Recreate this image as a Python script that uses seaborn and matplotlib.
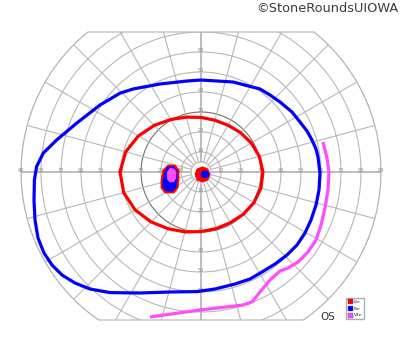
import numpy as np
import pandas as pd
import matplotlib
matplotlib.use("Agg")
import matplotlib.pyplot as plt
from matplotlib.patches import Polygon
from matplotlib.lines import Line2D
import seaborn as sns

# Goldmann visual field, left eye (OS). Degrees of eccentricity.
stimuli = ["I2e", "I4e", "V4e"]
colors = {"I2e": "#ff0000", "I4e": "#0000ff", "V4e": "#ff4cff"}

# I2e isopter: meridian (deg, ccw from right) and eccentricity
i2e_meridian = [0, 15, 30, 45, 60, 75, 90, 105, 120, 135, 150, 165,
                180, 195, 210, 225, 240, 255, 270, 285, 300, 315, 330, 345]
i2e_ecc = [31, 30.2, 29, 27.9, 27, 26.8, 27.3, 28.4, 30.3, 33, 36.1, 39,
           40.5, 40, 38, 35.3, 32.8, 31, 29.8, 29.3, 29.3, 29.9, 30.6, 31]

# I4e isopter: horizontal / vertical position in degrees
i4e_x = [0, 16, 29.5, 34.5, 39.5, 45.5, 49.5, 53, 55.5, 57.5, 58.5, 59.5,
         59, 57.5, 55, 52, 48, 43, 37, 30.5, 24.5, 17, 7, -2, -15.5, -30.5,
         -45.5, -55.5, -63, -69.5, -74.5, -78.5, -81.5, -83, -83.5, -83.3,
         -82.2, -78.9, -72.2, -62.2, -50.5, -40.5, -34, -20.5, -7]
i4e_y = [46, 45, 41.5, 38.5, 35, 30, 25, 20.5, 16, 11.5, 7.5, -0.5,
         -9, -16.5, -24, -30.5, -36.5, -41.5, -46, -50, -53.5, -56, -58.5,
         -59.8, -60, -60.5, -60.3, -58.5, -55.5, -51.5, -46.5, -40.5, -33,
         -24, -14, -4, 2.7, 9.4, 16, 24.4, 33.5, 39.4, 41.5, 44, 45.5]

# V4e isopter (open, nasal/inferior only)
v4e_x = [61, 63, 64, 63.5, 62, 60, 57.5, 53.5, 48.5, 43.5, 39.5, 34.5, 29.5,
         25.5, 21, -0.5, -25.5]
v4e_y = [15, 7, 0, -9, -18, -26.5, -34, -40, -45, -48, -49.5, -54, -60,
         -65, -66.5, -69, -72.5]

# blind spot scotoma
bs_i2e_x = [-16.5, -13, -11, -11, -11.5, -13.5, -18, -20, -20, -19]
bs_i2e_y = [3.5, 3.5, 1, -4, -8, -10.5, -10.5, -8, -4, 1]
bs_i4e_x = [-16.5, -13.5, -12, -12, -12.5, -14, -17.5, -19, -19, -18]
bs_i4e_y = [2.5, 2.5, 0.5, -4, -7.5, -9.5, -9.5, -7.5, -4, 0.5]
bs_v4e_x = [-15.5, -13.5, -12.5, -12.7, -13.5, -15.5, -16.8, -17]
bs_v4e_y = [1.8, 1.5, 0, -3, -4.8, -5, -3.5, -0.5]

# central island
c_i2e_x = [0.8, 3.5, 4.5, 3.5, 0.8, -2, -3, -2]
c_i2e_y = [2.6, 1.5, -1.2, -4, -5, -4, -1.2, 1.5]
c_i4e_x = [2, 3.5, 4, 3.5, 2, 0.5, 0, 0.5]
c_i4e_y = [0.6, 0.1, -1.2, -2.5, -3, -2.5, -1.2, 0.1]

ring_ecc = [5, 10, 20, 30, 40, 50, 60, 70, 80, 90]
label_ecc = [10, 20, 30, 40, 50, 60, 70, 80, 90]
top_limit = 70
bottom_limit = -74

sns.set_style("white")
fig = plt.figure(figsize=(4, 3.52), dpi=100)
ax = fig.add_axes([0, 0, 1, 1])
ax.set_xlim(-100.5, 99.5)
ax.set_ylim(-90, 86)
ax.axis("off")

# chart outline used to clip the grid
a_top = np.degrees(np.arcsin(top_limit / 90))
a_bot = np.degrees(np.arcsin(-bottom_limit / 90))
t1 = np.radians(np.linspace(-a_bot, a_top, 100))
t2 = np.radians(np.linspace(180 - a_top, 180 + a_bot, 100))
outline = np.vstack([np.c_[90 * np.cos(t1), 90 * np.sin(t1)],
                     np.c_[90 * np.cos(t2), 90 * np.sin(t2)]])
clip = Polygon(outline, closed=True, transform=ax.transData, fill=False,
               edgecolor="#b5b5b5", lw=0.8)
ax.add_patch(clip)

grid_col = "#b8b8b8"
t = np.linspace(0, 2 * np.pi, 361)
for r in ring_ecc:
    col = "#707070" if r == 30 else grid_col
    ln, = ax.plot(r * np.cos(t), r * np.sin(t), color=col, lw=0.8, zorder=1)
    ln.set_clip_path(clip)
for m in range(0, 360, 15):
    a = np.radians(m)
    lw = 1.3 if m % 90 == 0 else 0.8
    ln, = ax.plot([5 * np.cos(a), 95 * np.cos(a)], [5 * np.sin(a), 95 * np.sin(a)],
                  color=grid_col, lw=lw, zorder=1)
    ln.set_clip_path(clip)

for r in label_ecc:
    for px, py in [(r, 0), (-r, 0), (0, r), (0, -r)]:
        if bottom_limit < py < top_limit:
            ax.text(px, py + 0.6, str(r), fontsize=3.6, color="#8a8a8a",
                    ha="center", va="center", zorder=2)

# isopters
rad = np.radians(i2e_meridian)
i2e_x = list(np.array(i2e_ecc) * np.cos(rad))
i2e_y = list(np.array(i2e_ecc) * np.sin(rad))
curves = [("I2e", i2e_x + i2e_x[:1], i2e_y + i2e_y[:1]),
          ("I4e", i4e_x + i4e_x[:1], i4e_y + i4e_y[:1]),
          ("V4e", v4e_x, v4e_y)]
df = pd.concat([pd.DataFrame({"x": xs, "y": ys, "stimulus": s,
                              "order": range(len(xs))})
                for s, xs, ys in curves], ignore_index=True)
sns.lineplot(data=df, x="x", y="y", hue="stimulus", palette=colors,
             sort=False, estimator=None, lw=2.3, legend=False, ax=ax,
             zorder=5, solid_joinstyle="round", solid_capstyle="butt")

for xs, ys, s in [(bs_i2e_x, bs_i2e_y, "I2e"), (bs_i4e_x, bs_i4e_y, "I4e"),
                  (bs_v4e_x, bs_v4e_y, "V4e"), (c_i2e_x, c_i2e_y, "I2e"),
                  (c_i4e_x, c_i4e_y, "I4e")]:
    ax.fill(xs, ys, color=colors[s], lw=0.6, ec=colors[s], zorder=6)

ax.text(63.5, -72.5, "OS", fontsize=7.5, color="#333333", ha="center", va="center")
fig.text(0.995, 0.976, "\u00a9StoneRoundsUIOWA", fontsize=9.3, color="#3a3a3a",
         ha="right", va="center")

handles = [Line2D([], [], marker="s", ls="none", markersize=3.6,
                  markerfacecolor=colors[s], markeredgecolor="#555555",
                  markeredgewidth=0.3, label=s) for s in stimuli]
fig.legend(handles=handles, loc="upper left", bbox_to_anchor=(0.865, 0.153),
           fontsize=3.2, frameon=True, edgecolor="#999999", fancybox=False,
           handlelength=0.8, handletextpad=0.6, borderpad=0.4,
           labelspacing=0.55, borderaxespad=0)

fig.savefig("out.png", dpi=100)
